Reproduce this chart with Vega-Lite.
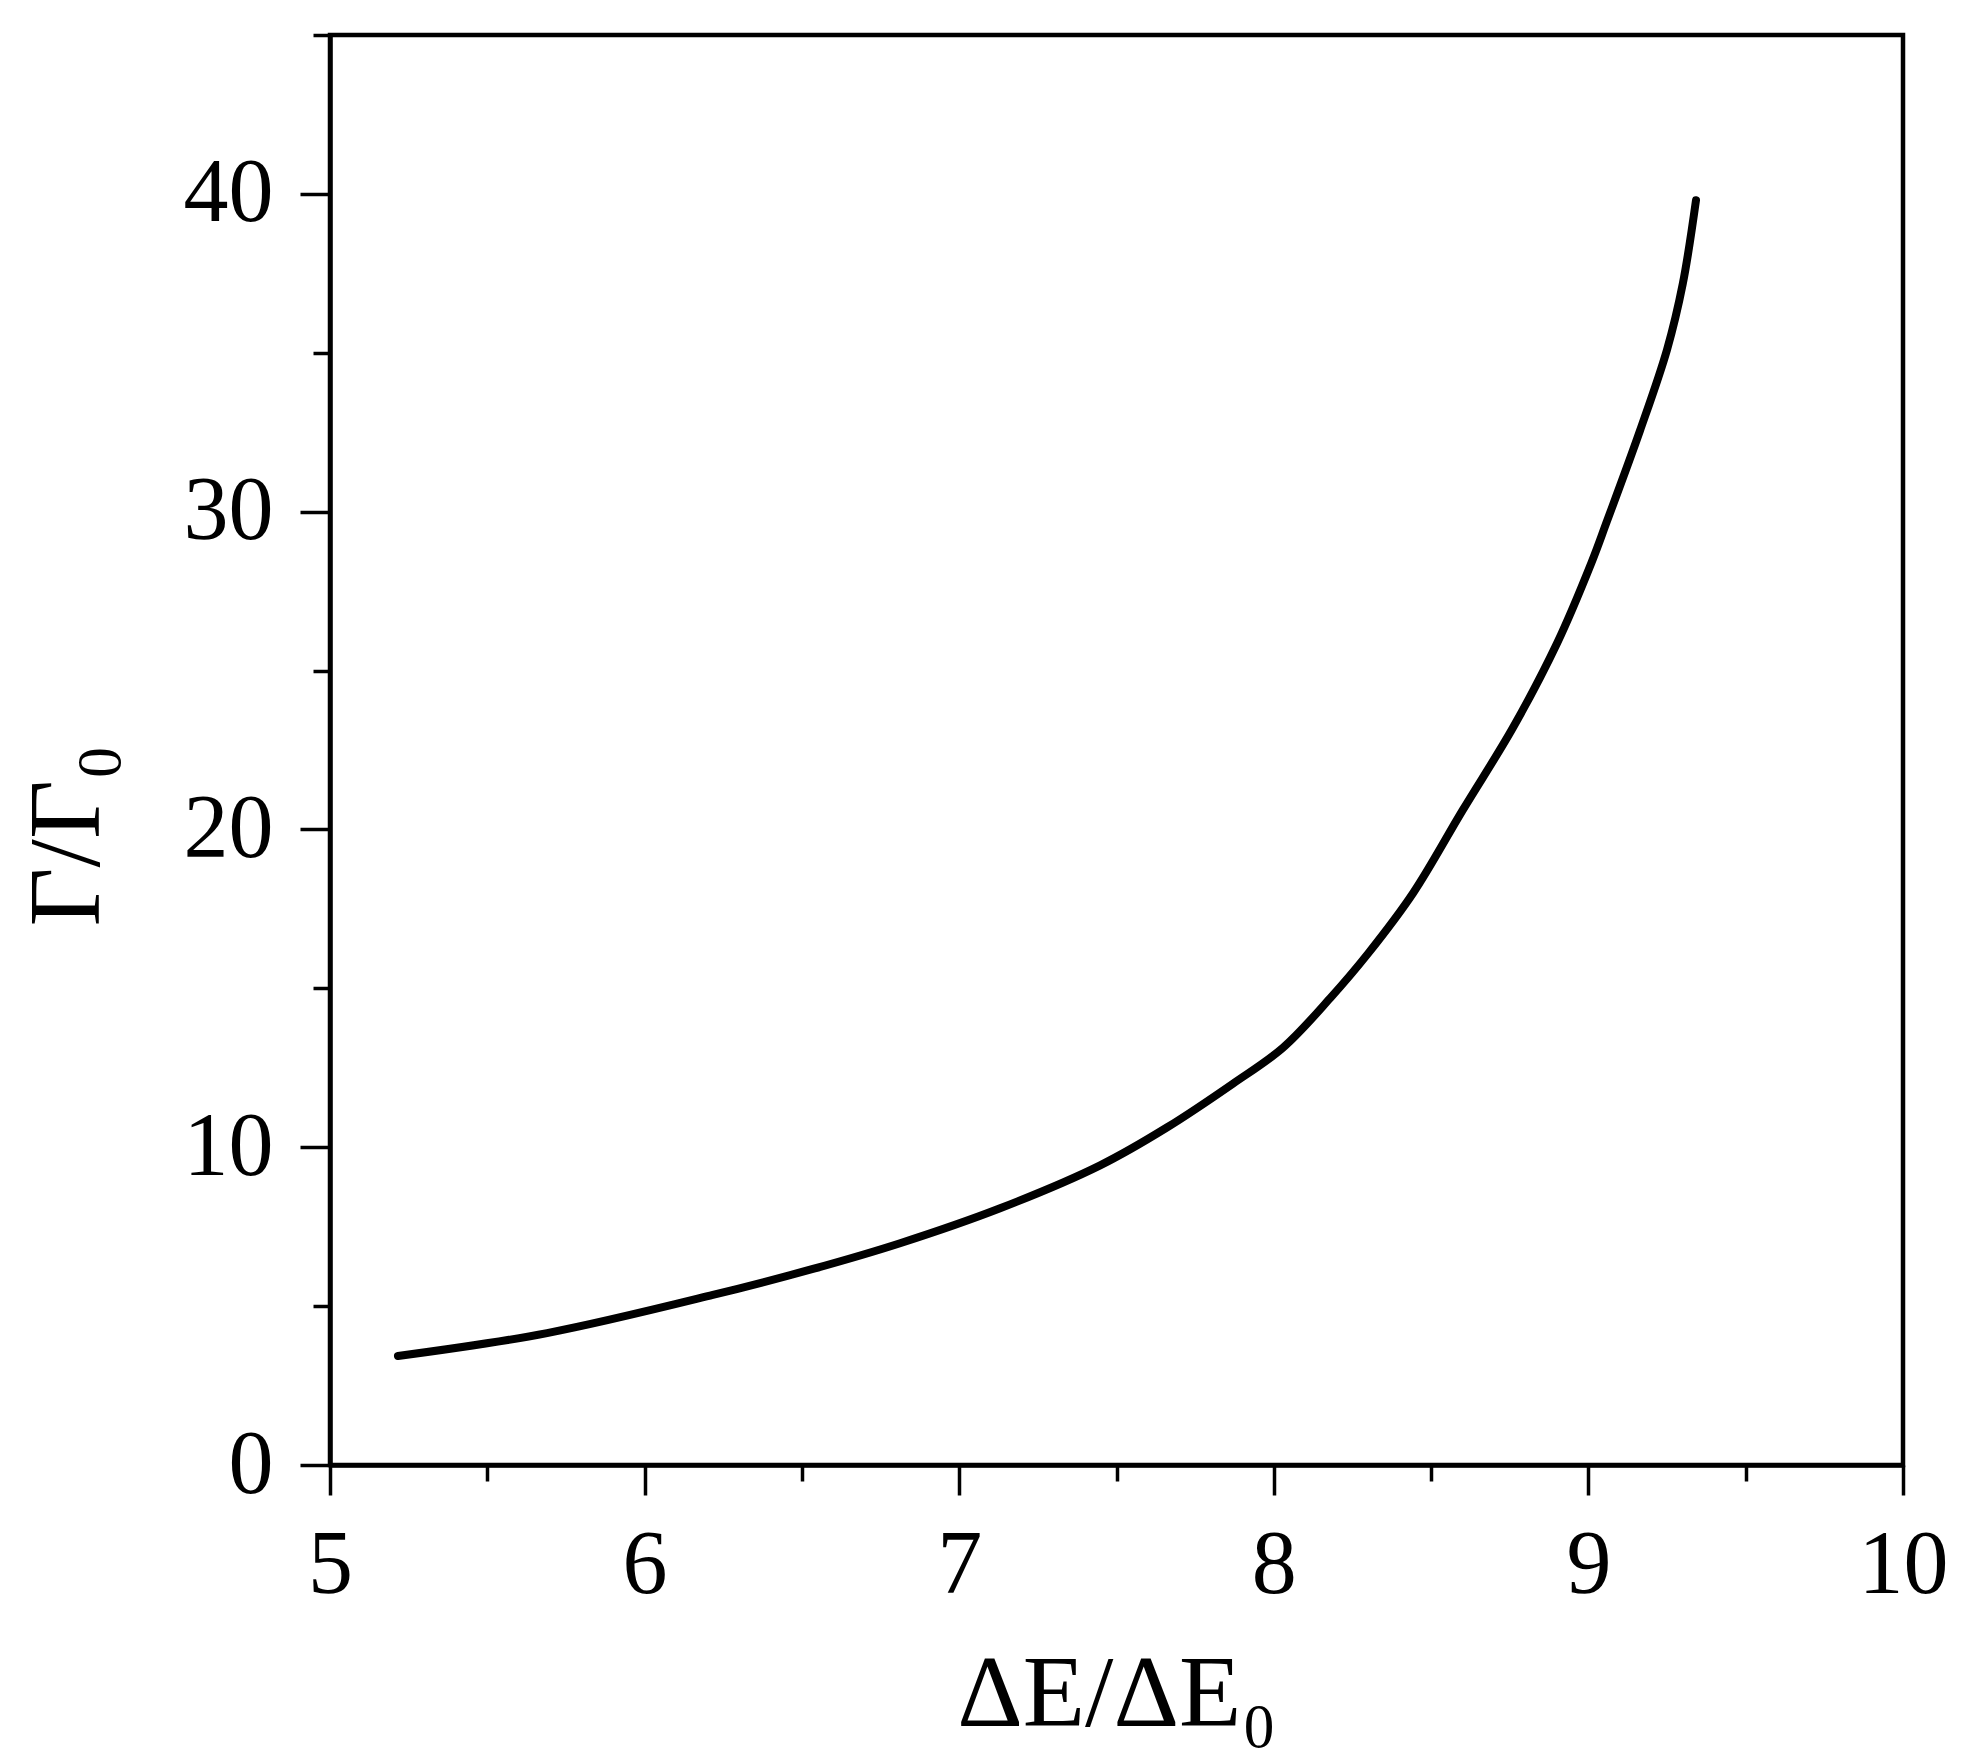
{
  "$schema": "https://vega.github.io/schema/vega-lite/v6.json",
  "width": 1573,
  "height": 1430,
  "autosize": {"type": "none"},
  "padding": {"left": 330, "top": 35, "right": 72, "bottom": 293},
  "background": "white",
  "config": {
    "view": {"stroke": "black", "strokeWidth": 4.5},
    "font": "Liberation Serif",
    "axis": {
      "grid": false,
      "domainColor": "black",
      "domainWidth": 4.5,
      "tickColor": "black",
      "tickWidth": 3.5,
      "labelFont": "Liberation Serif",
      "labelFontSize": 90,
      "labelColor": "black",
      "labelFlush": false,
      "labelOverlap": false,
      "titleFont": "Liberation Serif",
      "titleFontSize": 102,
      "titleFontWeight": "normal",
      "titleColor": "black"
    }
  },
  "data": {
    "values": [
      {"x": 5.216, "y": 3.43},
      {"x": 5.69, "y": 4.15},
      {"x": 6.217, "y": 5.35},
      {"x": 6.535, "y": 6.17},
      {"x": 6.812, "y": 6.98},
      {"x": 7.13, "y": 8.08},
      {"x": 7.448, "y": 9.43},
      {"x": 7.66, "y": 10.62},
      {"x": 7.87, "y": 12.0},
      {"x": 8.03, "y": 13.14},
      {"x": 8.18, "y": 14.7},
      {"x": 8.3, "y": 16.1},
      {"x": 8.443, "y": 18.0},
      {"x": 8.6, "y": 20.6},
      {"x": 8.76, "y": 23.2},
      {"x": 8.9, "y": 25.85},
      {"x": 9.01, "y": 28.4},
      {"x": 9.059, "y": 29.7},
      {"x": 9.164, "y": 32.55},
      {"x": 9.25, "y": 35.1},
      {"x": 9.3, "y": 37.17},
      {"x": 9.342, "y": 39.8}
    ]
  },
  "mark": {"type": "line", "color": "black", "strokeWidth": 8, "strokeCap": "round", "interpolate": "catmull-rom"},
  "encoding": {
    "x": {
      "field": "x",
      "type": "quantitative",
      "scale": {"domain": [5, 10], "nice": false, "zero": false},
      "axis": {
        "title": "ΔE/ΔE₀",
        "values": [5, 5.5, 6, 6.5, 7, 7.5, 8, 8.5, 9, 9.5, 10],
        "labelExpr": "datum.value % 1 === 0 ? format(datum.value, 'd') : ''",
        "tickSize": {"condition": {"test": "datum.value % 1 === 0", "value": 30}, "value": 16},
        "labelPadding": 26,
        "titleBaseline": "alphabetic",
        "titleY": 260
      }
    },
    "y": {
      "field": "y",
      "type": "quantitative",
      "scale": {"domain": [0, 45], "nice": false},
      "axis": {
        "title": "Γ/Γ₀",
        "values": [0, 5, 10, 15, 20, 25, 30, 35, 40, 45],
        "labelExpr": "datum.value % 10 === 0 ? format(datum.value, 'd') : ''",
        "tickSize": {"condition": {"test": "datum.value % 10 === 0", "value": 30}, "value": 17},
        "labelPadding": 27,
        "titleBaseline": "alphabetic",
        "titleAngle": -90,
        "titleX": -232,
        "titleY": 800
      }
    }
  }
}
